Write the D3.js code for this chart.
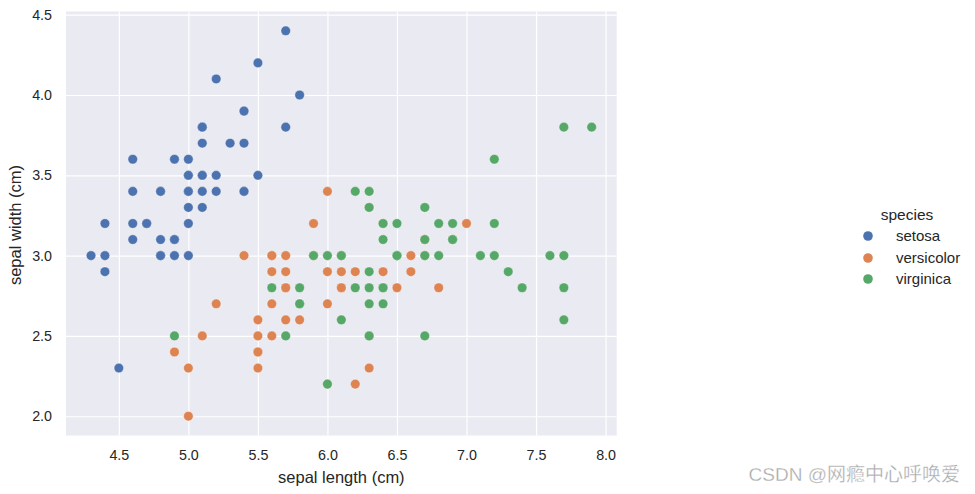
<!DOCTYPE html>
<html><head><meta charset="utf-8">
<script src="https://cdn.jsdelivr.net/npm/d3@7"></script>
<style>body{margin:0;background:#fff}svg{display:block}</style>
</head><body>
<script>
const species = ["setosa","versicolor","virginica"];
const colors = ["#4c72b0","#dd8452","#55a868"];
const setosaX = [5.1,4.9,4.7,4.6,5.0,5.4,4.6,5.0,4.4,4.9,5.4,4.8,4.8,4.3,5.8,5.7,5.4,5.1,5.7,5.1,5.4,5.1,4.6,5.1,4.8,5.0,5.0,5.2,5.2,4.7,4.8,5.4,5.2,5.5,4.9,5.0,5.5,4.9,4.4,5.1,5.0,4.5,4.4,5.0,5.1,4.8,5.1,4.6,5.3,5.0];
const setosaY = [3.5,3.0,3.2,3.1,3.6,3.9,3.4,3.4,2.9,3.1,3.7,3.4,3.0,3.0,4.0,4.4,3.9,3.5,3.8,3.8,3.4,3.7,3.6,3.3,3.4,3.0,3.4,3.5,3.4,3.2,3.1,3.4,4.1,4.2,3.1,3.2,3.5,3.6,3.0,3.4,3.5,2.3,3.2,3.5,3.8,3.0,3.8,3.2,3.7,3.3];
const versicolorX = [7.0,6.4,6.9,5.5,6.5,5.7,6.3,4.9,6.6,5.2,5.0,5.9,6.0,6.1,5.6,6.7,5.6,5.8,6.2,5.6,5.9,6.1,6.3,6.1,6.4,6.6,6.8,6.7,6.0,5.7,5.5,5.5,5.8,6.0,5.4,6.0,6.7,6.3,5.6,5.5,5.5,6.1,5.8,5.0,5.6,5.7,5.7,6.2,5.1,5.7];
const versicolorY = [3.2,3.2,3.1,2.3,2.8,2.8,3.3,2.4,2.9,2.7,2.0,3.0,2.2,2.9,2.9,3.1,3.0,2.7,2.2,2.5,3.2,2.8,2.5,2.8,2.9,3.0,2.8,3.0,2.9,2.6,2.4,2.4,2.7,2.7,3.0,3.4,3.1,2.3,3.0,2.5,2.6,3.0,2.6,2.3,2.7,3.0,2.9,2.9,2.5,2.8];
const virginicaX = [6.3,5.8,7.1,6.3,6.5,7.6,4.9,7.3,6.7,7.2,6.5,6.4,6.8,5.7,5.8,6.4,6.5,7.7,7.7,6.0,6.9,5.6,7.7,6.3,6.7,7.2,6.2,6.1,6.4,7.2,7.4,7.9,6.4,6.3,6.1,7.7,6.3,6.4,6.0,6.9,6.7,6.9,5.8,6.8,6.7,6.7,6.3,6.5,6.2,5.9];
const virginicaY = [3.3,2.7,3.0,2.9,3.0,3.0,2.5,2.9,2.5,3.6,3.2,2.7,3.0,2.5,2.8,3.2,3.0,3.8,2.6,2.2,3.2,2.8,2.8,2.7,3.3,3.2,2.8,3.0,2.8,3.0,2.8,3.8,2.8,2.8,2.6,3.0,3.4,3.1,3.0,3.1,3.1,3.1,2.7,3.2,3.3,3.0,2.5,3.0,3.4,3.0];
const xTicks = [4.5,5.0,5.5,6.0,6.5,7.0,7.5,8.0];
const yTicks = [2.0,2.5,3.0,3.5,4.0,4.5];

const W=975,H=494;
const pLeft=66,pRight=616.7,pTop=11.5,pBottom=435.5;
const svg=d3.select("body").append("svg").attr("width",W).attr("height",H)
  .style("font-family","'Liberation Sans', Arial, sans-serif");
const x=d3.scaleLinear().domain([4.12,8.08]).range([pLeft,pRight]);
const y=d3.scaleLinear().domain([1.88,4.52]).range([pBottom,pTop]);

svg.append("rect").attr("x",pLeft).attr("y",pTop).attr("width",pRight-pLeft).attr("height",pBottom-pTop).attr("fill","#eaeaf2");

const gx=svg.append("g").attr("transform",`translate(0,${pBottom})`)
  .call(d3.axisBottom(x).tickValues(xTicks).tickFormat(d3.format(".1f")).tickSize(-(pBottom-pTop)).tickPadding(14));
const gy=svg.append("g").attr("transform",`translate(${pLeft},0)`)
  .call(d3.axisLeft(y).tickValues(yTicks).tickFormat(d3.format(".1f")).tickSize(-(pRight-pLeft)).tickPadding(14));
[gx,gy].forEach(g=>{
  g.select(".domain").remove();
  g.selectAll(".tick line").attr("stroke","#fff").attr("stroke-width",1.2);
  g.selectAll(".tick text").attr("fill","#262626").style("font-size","14.3px").style("font-family","'Liberation Sans', Arial, sans-serif");
});

const data=[];
[[setosaX,setosaY],[versicolorX,versicolorY],[virginicaX,virginicaY]].forEach((s,i)=>{
  s[0].forEach((v,j)=>data.push({x:v,y:s[1][j],s:i}));
});
svg.append("g").selectAll("circle").data(data).join("circle")
  .attr("cx",d=>x(d.x)).attr("cy",d=>y(d.y)).attr("r",4.8)
  .attr("fill",d=>colors[d.s]).attr("stroke","#fff").attr("stroke-width",0.4);

svg.append("text").attr("x",(pLeft+pRight)/2).attr("y",483).attr("text-anchor","middle")
  .attr("fill","#262626").style("font-size","16.5px").text("sepal length (cm)");
svg.append("text").attr("transform",`translate(21,225) rotate(-90)`).attr("text-anchor","middle")
  .attr("fill","#262626").style("font-size","16.5px").text("sepal width (cm)");

const lg=svg.append("g");
lg.append("text").attr("x",907).attr("y",220).attr("text-anchor","middle").attr("fill","#262626").style("font-size","15.5px").text("species");
species.forEach((s,i)=>{
  const yy=[236,258,279][i];
  lg.append("circle").attr("cx",868).attr("cy",yy).attr("r",4.8).attr("fill",colors[i]);
  lg.append("text").attr("x",896).attr("y",yy).attr("dy","0.35em").attr("fill","#262626").style("font-size","15px").text(s);
});

svg.append("text").attr("x",960).attr("y",481).attr("text-anchor","end")
  .attr("fill","#a8a8a8").attr("stroke","#fff").attr("stroke-width",0.3)
  .style("font-family","'Liberation Sans','Noto Sans CJK SC',sans-serif").style("font-size","19px")
  .text("CSDN @网瘾中心呼唤爱");
</script>
</body></html>
